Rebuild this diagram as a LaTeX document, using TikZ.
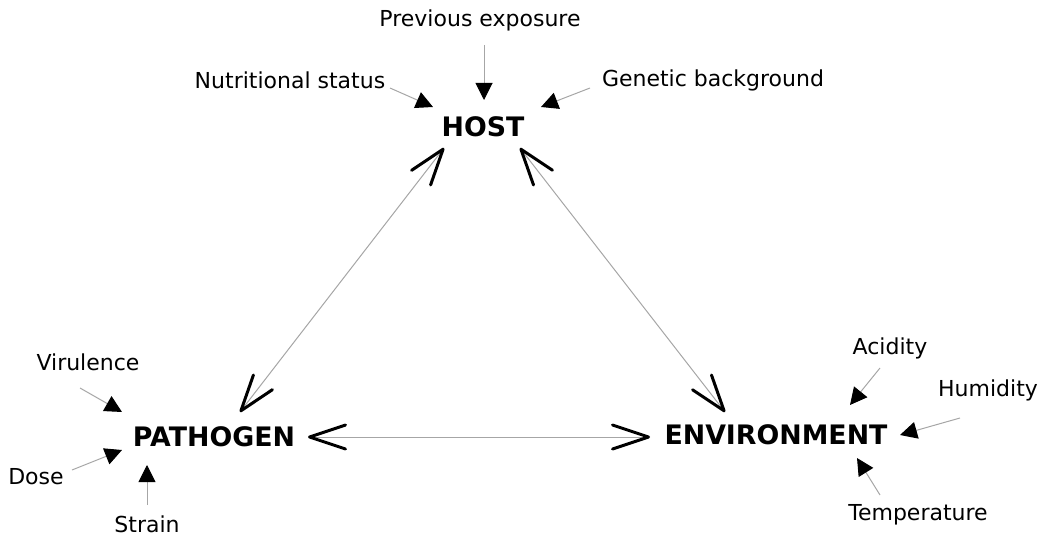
\documentclass[tikz,border=0pt]{standalone}
\usepackage{fontspec}
\setmainfont{DejaVu Sans}
\usetikzlibrary{arrows.meta, calc}

\begin{document}
\begin{tikzpicture}[
    x=0.5pt, y=-0.5pt,
    agent/.style={
        font=\fontsize{13.4}{16}\selectfont\bfseries,
        inner sep=2pt
    },
    factor/.style={
        font=\fontsize{11}{13}\selectfont,
        inner sep=2pt
    },
    feed/.style={-{Triangle[length=8.5pt,width=8.5pt,black]}, draw=gray!70, line width=0.5pt},
    link/.style={{Straight Barb[length=18pt,width=12pt,line width=1.5pt,round,black]}-{Straight Barb[length=18pt,width=12pt,line width=1.5pt,round,black]}, draw=gray!70, line width=0.5pt}
]
\useasboundingbox (0,0) rectangle (1039,535);

% Main nodes
\node[agent] (host) at (483,127) {HOST};
\node[agent] (path) at (214,437) {PATHOGEN};
\node[agent] (env) at (776,435) {ENVIRONMENT};

% Factor labels
\node[factor] (prev) at (480,20) {Previous exposure};
\node[factor] (nutr) at (290,80) {Nutritional status};
\node[factor] (gen) at (713,80) {Genetic background};
\node[factor] (vir) at (88,362) {Virulence};
\node[factor] (dose) at (36,477) {Dose};
\node[factor] (strain) at (147,524) {Strain};
\node[factor] (acid) at (890,348) {Acidity};
\node[factor] (hum) at (988,390) {Humidity};
\node[factor] (temp) at (918,515) {Temperature};

% Triangle links
\draw[link] ($(host)+(-39,21)$) -- ($(path)+(26,-25)$);
\draw[link] ($(host)+(37,21)$) -- ($(env)+(-51,-23)$);
\draw[link] ($(path)+(94,0)$) -- ($(env)+(-126,2)$);

% Factor arrows
\draw[feed] ($(prev)+(4,25)$) -- ($(host)+(1,-27)$);
\draw[feed] ($(nutr)+(100,8)$) -- ($(host)+(-50,-20)$);
\draw[feed] ($(gen)+(-123,8)$) -- ($(host)+(58,-20)$);

\draw[feed] ($(vir)+(-8,26)$) -- ($(path)+(-92,-25)$);
\draw[feed] ($(dose)+(36,-7)$) -- ($(path)+(-92,13)$);
\draw[feed] ($(strain)+(0,-19)$) -- ($(path)+(-67,28)$);

\draw[feed] ($(acid)+(-10,20)$) -- ($(env)+(74,-30)$);
\draw[feed] ($(hum)+(-28,28)$) -- ($(env)+(124,0)$);
\draw[feed] ($(temp)+(-38,-20)$) -- ($(env)+(81,23)$);

\end{tikzpicture}
\end{document}
